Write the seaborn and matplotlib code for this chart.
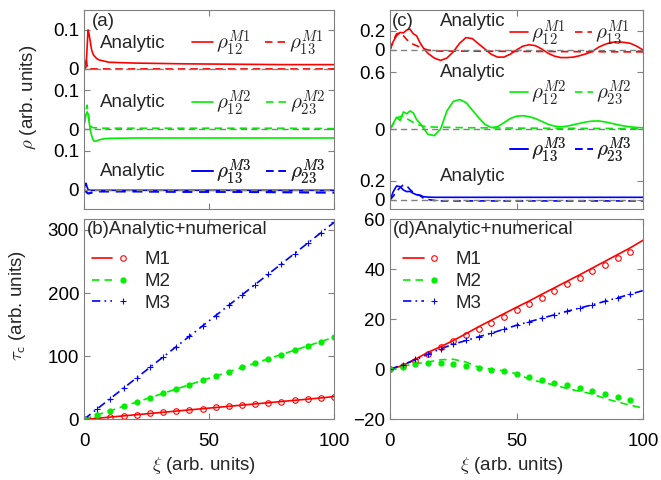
import numpy as np
import seaborn as sns
import matplotlib
matplotlib.use("Agg")
import matplotlib.pyplot as plt
from matplotlib.lines import Line2D
from matplotlib.legend_handler import HandlerTuple

# ---- panel (a): coherences vs xi (short spike then plateau)
a_x = [0, 0.4, 0.8, 1.2, 1.6, 2.0, 2.5, 3.0, 3.5, 4.0, 5.0, 6.0, 8.0, 10, 20, 40, 60, 80, 100]
a_m1_rho12 = [0, 0, 0.005, 0.05, 0.1, 0.09, 0.07, 0.05, 0.04, 0.034, 0.027, 0.023, 0.02, 0.017,
              0.015, 0.013, 0.012, 0.011, 0.011]
a_m1_rho13 = [0, 0.012, 0.028, 0.01, 0.0, -0.002, 0, 0, 0, 0, 0, 0, 0, 0, 0, 0, 0, 0, 0]
a_m2_rho12 = [0.01, 0.022, 0.038, 0.045, 0.04, 0.02, 0.0, -0.015, -0.025, -0.03, -0.03, -0.027,
              -0.024, -0.023, -0.022, -0.022, -0.022, -0.022, -0.022]
a_m2_rho23 = [0.02, 0.03, 0.048, 0.062, 0.05, 0.025, 0.01, 0.006, 0.005, 0.004, 0.004, 0.004,
              0.003, 0.003, 0.003, 0.003, 0.003, 0.003, 0.002]
a_m3_rho13 = [0, 0.012, 0.017, 0.008, 0.001, 0, -0.001, -0.001, -0.001, -0.001, -0.001, -0.001,
              -0.001, -0.001, -0.001, -0.001, -0.001, -0.001, -0.001]
a_m3_rho23 = [0, -0.002, -0.004, -0.007, -0.009, -0.009, -0.008, -0.007, -0.006, -0.005, -0.005,
              -0.004, -0.004, -0.004, -0.004, -0.005, -0.005, -0.006, -0.007]

# ---- panel (c): oscillating coherences
c_x = [0, 1.3, 2.6, 4.0, 5.3, 6.6, 7.9, 9.2, 10.5, 11.9, 13.2, 15, 17.5, 20, 22.5, 25, 27.5, 30,
       32.5, 35, 37.5, 40, 42.5, 45, 47.5, 50, 52.5, 55, 57.5, 60, 62.5, 65, 67.5, 70, 72.5, 75,
       77.5, 80, 82.5, 85, 87.5, 90, 92.5, 95, 97.5, 100]
c_m1_rho12 = [0, 0.09, 0.15, 0.185, 0.18, 0.21, 0.22, 0.17, 0.15, 0.075, 0.02, -0.035, -0.085,
              -0.11, -0.085, -0.02, 0.07, 0.13, 0.12, 0.065, 0.01, -0.045, -0.075, -0.075, -0.045,
              0.0, 0.04, 0.055, 0.045, 0.01, -0.035, -0.065, -0.08, -0.08, -0.075, -0.06, -0.04,
              -0.015, 0.03, 0.06, 0.08, 0.085, 0.08, 0.07, 0.04, 0.0]
c_m1_rho13 = [0, 0.1, 0.17, 0.18, 0.15, 0.11, 0.08, 0.06, 0.045, 0.03, 0.015, 0, -0.01, -0.012,
              -0.012, -0.012, -0.012, -0.012, -0.012, -0.013, -0.013, -0.013, -0.014, -0.014,
              -0.014, -0.015, -0.015, -0.015, -0.015, -0.016, -0.016, -0.016, -0.017, -0.017,
              -0.017, -0.018, -0.018, -0.018, -0.018, -0.019, -0.019, -0.019, -0.02, -0.02, -0.02,
              -0.02]
c_m2_rho12 = [0, 0.06, 0.125, 0.09, 0.18, 0.16, 0.19, 0.17, 0.1, 0.06, 0.01, -0.055, -0.07, 0.0,
              0.19, 0.29, 0.31, 0.28, 0.2, 0.12, 0.05, 0.015, 0.025, 0.065, 0.11, 0.135, 0.14, 0.13,
              0.11, 0.08, 0.05, 0.03, 0.023, 0.03, 0.045, 0.06, 0.075, 0.083, 0.085, 0.075, 0.06,
              0.045, 0.032, 0.023, 0.016, 0.013]
c_m2_rho23 = [0, 0.05, 0.115, 0.13, 0.14, 0.11, 0.09, 0.07, 0.05, 0.04, 0.03, 0.025, 0.02, 0.02,
              0.018, 0.016, 0.015, 0.014, 0.013, 0.012, 0.012, 0.011, 0.011, 0.01, 0.01, 0.01,
              0.009, 0.009, 0.009, 0.008, 0.008, 0.008, 0.007, 0.007, 0.007, 0.007, 0.006, 0.006,
              0.006, 0.006, 0.006, 0.005, 0.005, 0.005, 0.005, 0.005]
c_m3_rho13 = [0, 0.088, 0.147, 0.14, 0.105, 0.088, 0.09, 0.07, 0.055, 0.05, 0.035, 0.03, 0.028,
              0.028, 0.028, 0.028, 0.028, 0.028, 0.028, 0.028, 0.028, 0.028, 0.028, 0.028, 0.028,
              0.028, 0.028, 0.028, 0.028, 0.028, 0.028, 0.028, 0.028, 0.028, 0.028, 0.028, 0.028,
              0.028, 0.028, 0.028, 0.028, 0.028, 0.028, 0.028, 0.028, 0.028]
c_m3_rho23 = [0, 0.04, 0.09, 0.13, 0.16, 0.15, 0.11, 0.08, 0.06, 0.045, 0.02, 0.005, -0.005,
              -0.01, -0.01, -0.01, -0.01, -0.01, -0.01, -0.01, -0.01, -0.01, -0.01, -0.01, -0.01,
              -0.01, -0.01, -0.01, -0.01, -0.01, -0.01, -0.01, -0.01, -0.01, -0.01, -0.01, -0.01,
              -0.01, -0.01, -0.01, -0.01, -0.01, -0.01, -0.01, -0.01, -0.01]

# ---- panel (b): tau_c, analytic lines + numerical markers
b_x = [0, 5, 10, 15, 20, 25, 30, 35, 40, 45, 50, 55, 60, 65, 70, 75, 80, 85, 90, 95, 100]
b_m1 = [0, 1.5, 3.3, 5.1, 6.9, 8.7, 10.5, 12.3, 14.1, 15.9, 17.7, 19.5, 21.3, 23.1, 24.9, 26.7,
        28.5, 30.3, 32.1, 33.9, 36.0]
b_m2 = [0, 6.5, 13, 19.5, 26, 32.5, 39, 45.5, 52, 58.5, 65, 71.5, 78, 84.5, 91, 97.5, 104, 110.5,
        117, 123.5, 130]
b_m3 = [0, 15.6, 31.2, 46.8, 62.4, 78, 93.6, 109.2, 124.8, 140.4, 156, 171.6, 187.2, 202.8, 218.4,
        234, 249.6, 265.2, 280.8, 296.4, 312]
b_num_x = [0, 5.3, 10.5, 15.8, 21.1, 26.3, 31.6, 36.8, 42.1, 47.4, 52.6, 57.9, 63.2, 68.4, 73.7,
           78.9, 84.2, 89.5, 94.7, 100]
b_num_m1 = [0, 1.2, 3.4, 5.5, 7.5, 9.4, 11.3, 13.1, 15.0, 16.9, 18.7, 20.6, 22.5, 24.3, 26.2,
            28.0, 29.9, 31.8, 33.7, 35.6]
b_num_m2 = [0, 6.9, 13.7, 20.5, 27.4, 34.2, 41.1, 47.8, 54.7, 61.6, 68.4, 75.3, 82.2, 88.9, 95.8,
            102.6, 109.5, 116.4, 123.1, 130]
b_num_m3 = [0, 16.5, 32.8, 49.3, 65.8, 82.1, 98.6, 114.8, 131.4, 147.9, 164.1, 180.6, 197.2,
            213.4, 229.9, 246.2, 262.7, 279.2, 295.5, 312]

# ---- panel (d)
d_x = b_x
d_m1 = [0, 1.5, 4.0, 6.8, 9.0, 11.5, 14.2, 17.0, 19.6, 22.2, 24.8, 27.3, 30.0, 32.6, 35.2, 37.8,
        40.5, 43.2, 45.9, 48.6, 51.6]
d_m2 = [0, 1.2, 2.2, 2.9, 3.8, 4.0, 2.9, 0.8, 0.1, -0.6, -1.8, -3.9, -5.2, -6.3, -7.7, -8.8,
        -9.9, -11.7, -13.1, -14.4, -15.5]
d_m3 = [0, 1.8, 3.8, 6.0, 8.2, 10.0, 11.5, 13.0, 14.4, 16.0, 17.6, 19.0, 20.4, 21.8, 23.2, 24.5,
        25.8, 27.2, 28.6, 30.0, 31.5]
d_num_x = [0, 5, 10, 15, 20, 25, 30, 35, 40, 45, 50, 55, 60, 65, 70, 75, 80, 85, 90, 95]
d_num_m1 = [0, 1.3, 3.5, 6.3, 8.9, 11.2, 13.6, 16.3, 18.5, 20.9, 23.9, 26.3, 28.7, 31.3, 34.0,
            36.7, 39.2, 41.9, 44.5, 46.9]
d_num_m2 = [0, 1.0, 2.3, 2.7, 2.4, 2.0, 1.5, 0.7, -0.1, -0.8, -1.9, -3.1, -4.1, -5.3, -6.4, -7.5,
            -8.7, -10.0, -11.1, -12.4]
d_num_m3 = [0, 1.9, 4.0, 6.2, 8.3, 10.1, 11.6, 13.1, 14.5, 16.1, 17.7, 19.1, 20.5, 21.9, 23.3,
            24.6, 25.9, 27.3, 28.7, 30.1]

sns.set_theme(style="ticks")
plt.rcParams["font.family"] = ["Liberation Sans", "DejaVu Sans"]
plt.rcParams["mathtext.fontset"] = "cm"

RED, GREEN, BLUE, GRAY = "#ff0000", "#00ee00", "#0000ff", "#808080"
FS = 13.5
LW = 1.2
DASH = (4.5, 3.0)
DASHDOT = (5.0, 2.5, 1.0, 2.5)

fig = plt.figure(figsize=(6.61, 4.8), dpi=100)
ax_a = fig.add_axes([0.1271, 0.5646, 0.3782, 0.4146])
ax_c = fig.add_axes([0.5900, 0.5646, 0.3828, 0.4146])
ax_b = fig.add_axes([0.1271, 0.1265, 0.3782, 0.4167])
ax_d = fig.add_axes([0.5900, 0.1265, 0.3828, 0.4167])

for ax in (ax_a, ax_b, ax_c, ax_d):
    ax.tick_params(direction="in", top=True, right=True, length=4, width=0.8,
                   color=GRAY, labelcolor="black", labelsize=FS)
    ax.tick_params(axis="x", pad=10)
    for s in ax.spines.values():
        s.set_color(GRAY)
        s.set_linewidth(0.8)
    ax.set_xlim(0, 100)
    ax.set_xticks([0, 50, 100])


def line(ax, x, y, color, dash=None, off=0.0, lw=LW):
    ln = sns.lineplot(x=x, y=np.asarray(y) + off, ax=ax, color=color, linewidth=lw,
                      legend=False, sort=False).lines[-1]
    if dash is not None:
        ln.set_dashes(dash)


def proxy(color, dash=None):
    h = Line2D([], [], color=color, lw=LW)
    if dash is not None:
        h.set_dashes(dash)
    return h


def rho_legend(ax, c, lab1, lab2, x, y, hl=1.0, cs=0.7):
    h = [proxy(c), proxy(c, DASH)]
    leg = ax.legend(h, [lab1, lab2], ncol=2, loc="center left", bbox_to_anchor=(x, y),
                    frameon=False, fontsize=15, handlelength=hl, handletextpad=0.15,
                    columnspacing=cs, borderpad=0, borderaxespad=0)
    ax.add_artist(leg)


# ---------- (a)
offs_a = [0.31, 0.155, 0.0]
line(ax_a, a_x, a_m1_rho12, RED, off=offs_a[0])
line(ax_a, a_x, a_m1_rho13, RED, DASH, off=offs_a[0])
line(ax_a, a_x, a_m2_rho12, GREEN, off=offs_a[1])
line(ax_a, a_x, a_m2_rho23, GREEN, DASH, off=offs_a[1])
line(ax_a, a_x, a_m3_rho13, BLUE, off=offs_a[2])
line(ax_a, a_x, a_m3_rho23, BLUE, DASH, off=offs_a[2], lw=1.6)
for o in offs_a:
    ax_a.axhline(o, color=GRAY, lw=1.0, dashes=DASH)
ax_a.set_ylim(-0.049, 0.461)
ax_a.set_yticks([0, 0.1, 0.155, 0.255, 0.31, 0.41])
ax_a.set_yticklabels(["0", "0.1", "0", "0.1", "0", "0.1"])
ax_a.tick_params(labelbottom=False)
ax_a.set_ylabel(r"$\rho$ (arb. units)", fontsize=FS, va="center")
ax_a.yaxis.set_label_coords(-0.224, 0.563)
ax_a.text(0.032, 0.94, "(a)", transform=ax_a.transAxes, fontsize=FS, va="center")
for yy, c, l1, l2 in [(0.834, RED, r"$\rho_{12}^{M1}$", r"$\rho_{13}^{M1}$"),
                      (0.533, GREEN, r"$\rho_{12}^{M2}$", r"$\rho_{23}^{M2}$"),
                      (0.186, BLUE, r"$\rho_{13}^{M3}$", r"$\rho_{23}^{M3}$")]:
    ax_a.text(0.064, yy, "Analytic", transform=ax_a.transAxes, fontsize=FS, va="center")
    rho_legend(ax_a, c, l1, l2, 0.432, yy, hl=1.0, cs=0.7)

# ---------- (c)
offs_c = [1.579, 0.747, 0.0]
line(ax_c, c_x, c_m1_rho12, RED, off=offs_c[0])
line(ax_c, c_x, c_m1_rho13, RED, DASH, off=offs_c[0])
line(ax_c, c_x, c_m2_rho12, GREEN, off=offs_c[1])
line(ax_c, c_x, c_m2_rho23, GREEN, DASH, off=offs_c[1])
line(ax_c, c_x, c_m3_rho13, BLUE, off=offs_c[2])
line(ax_c, c_x, c_m3_rho23, BLUE, DASH, off=offs_c[2])
for o in offs_c:
    ax_c.axhline(o, color=GRAY, lw=1.0, dashes=DASH)
ax_c.set_ylim(-0.095, 2.0)
ax_c.set_yticks([0, 0.2, 0.747, 1.347, 1.579, 1.779])
ax_c.set_yticklabels(["0", "0.2", "0", "0.6", "0", "0.2"])
ax_c.tick_params(labelbottom=False)
ax_c.text(0.008, 0.94, "(c)", transform=ax_c.transAxes, fontsize=FS, va="center")
for ty, ly, c, l1, l2 in [(0.94, 0.884, RED, r"$\rho_{12}^{M1}$", r"$\rho_{13}^{M1}$"),
                          (0.688, 0.583, GREEN, r"$\rho_{12}^{M2}$", r"$\rho_{23}^{M2}$"),
                          (0.161, 0.296, BLUE, r"$\rho_{13}^{M3}$", r"$\rho_{23}^{M3}$")]:
    ax_c.text(0.198, ty, "Analytic", transform=ax_c.transAxes, fontsize=FS, va="center")
    rho_legend(ax_c, c, l1, l2, 0.474, ly, hl=0.85, cs=0.45)


# ---------- (b) and (d)
def tau_panel(ax, x, m1, m2, m3, nx, n1, n2, n3, tag, leg_x):
    line(ax, x, m1, RED)
    line(ax, x, m2, GREEN, DASH)
    line(ax, x, m3, BLUE, DASHDOT)
    mk1 = dict(ls="none", marker="o", ms=4, mfc="none", mec=RED, mew=0.8)
    mk2 = dict(ls="none", marker="o", ms=3.5, mfc=GREEN, mec=GREEN)
    mk3 = dict(ls="none", marker="+", ms=4, mec=BLUE, mew=0.8)
    ax.plot(nx, n1, **mk1)
    ax.plot(nx, n2, **mk2)
    ax.plot(nx, n3, **mk3)
    h = [(proxy(RED), Line2D([], [], **mk1)),
         (proxy(GREEN, DASH), Line2D([], [], **mk2)),
         (proxy(BLUE, DASHDOT), Line2D([], [], **mk3))]
    ax.legend(h, ["M1", "M2", "M3"], handler_map={tuple: HandlerTuple(ndivide=None, pad=0)},
              loc="upper left", bbox_to_anchor=(leg_x, 0.84), frameon=False, fontsize=FS,
              handlelength=2.2, handletextpad=0.6, labelspacing=0.25, borderpad=0,
              borderaxespad=0)
    ax.text(0.01, 0.95, tag + "Analytic+numerical", transform=ax.transAxes, fontsize=FS,
            va="center")
    ax.set_xlabel(r"$\xi$ (arb. units)", fontsize=FS, va="center")
    ax.xaxis.set_label_coords(0.48, -0.23)


tau_panel(ax_b, b_x, b_m1, b_m2, b_m3, b_num_x, b_num_m1, b_num_m2, b_num_m3, "(b)", 0.031)
ax_b.set_ylim(0, 317)
ax_b.set_yticks([0, 100, 200, 300])
ax_b.set_ylabel(r"$\tau_{\mathsf{c}}$ (arb. units)", fontsize=FS, va="center")
ax_b.yaxis.set_label_coords(-0.268, 0.567)

tau_panel(ax_d, d_x, d_m1, d_m2, d_m3, d_num_x, d_num_m1, d_num_m2, d_num_m3, "(d)", 0.051)
ax_d.set_ylim(-20, 60)
ax_d.set_yticks([-20, 0, 20, 40, 60])

fig.savefig("out.png", dpi=100)
